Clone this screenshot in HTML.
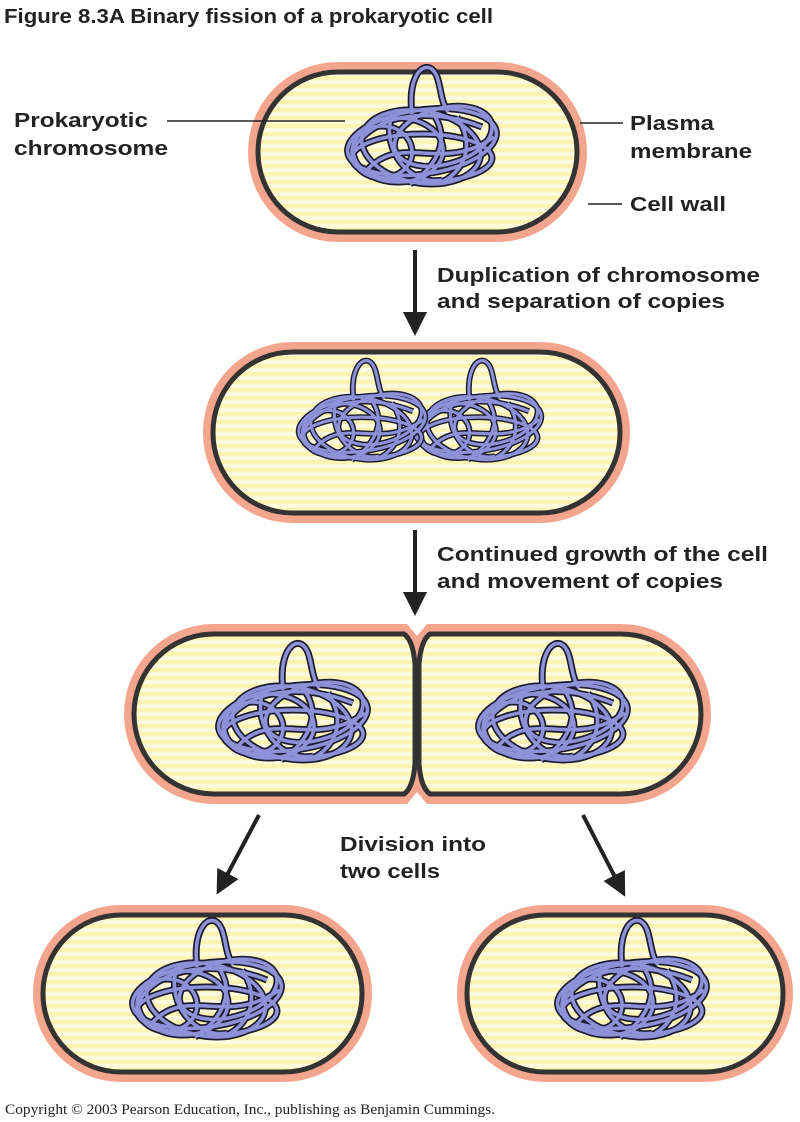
<!DOCTYPE html>
<html><head><meta charset="utf-8"><style>
html,body{margin:0;padding:0;background:#fff;}
svg{display:block;}
text{font-family:"Liberation Sans",Arial,sans-serif;font-weight:bold;fill:#222;}
</style></head><body>
<svg width="800" height="1122" viewBox="0 0 800 1122" xmlns="http://www.w3.org/2000/svg">
<defs>
<pattern id="st" width="8" height="8" patternUnits="userSpaceOnUse">
<rect width="8" height="8" fill="#fdf4b4"/><rect width="8" height="4" fill="#fefadc"/>
</pattern>
<g id="shape" fill="none">
<ellipse cx="0" cy="0" rx="75" ry="32" transform="rotate(-8)"/>
<ellipse cx="0" cy="5" rx="60" ry="36" transform="rotate(10)"/>
<ellipse cx="-24" cy="8" rx="45" ry="32"/>
<ellipse cx="22" cy="0" rx="50" ry="28" transform="rotate(-15)"/>
<ellipse cx="0" cy="16" rx="70" ry="24"/>
<ellipse cx="-40" cy="10" rx="30" ry="26"/>
<path d="M-70,10 C-50,-30 10,-35 60,-15"/>
<path d="M-55,28 C-20,-10 20,32 72,-5"/>
<path d="M-30,-28 C-42,10 -10,44 20,38"/>
<path d="M10,-30 C32,0 10,28 -12,42"/>
<path d="M35,-25 C55,5 40,30 20,40"/>
<path d="M-10,-28 C-14,-62 -2,-78 8,-74 C20,-68 16,-44 26,-30"/>
</g>
<g id="chr">
<use href="#shape" stroke="#1c1c30" stroke-width="7"/>
<use href="#shape" stroke="#8d92d8" stroke-width="3.6"/>
</g>
<marker id="ah" markerWidth="6" markerHeight="6" refX="1" refY="3" orient="auto" markerUnits="strokeWidth">
<path d="M0,0 L6,3 L0,6 Z" fill="#222"/>
</marker>
</defs>

<text x="4" y="23" font-size="20" textLength="489" lengthAdjust="spacingAndGlyphs">Figure 8.3A  Binary fission of a prokaryotic cell</text>

<!-- cell 1 -->
<rect x="248" y="62" width="339" height="180" rx="90" fill="#f3a58e"/>
<rect x="258" y="72" width="319" height="160" rx="80" fill="url(#st)" stroke="#333" stroke-width="5"/>
<use href="#chr" transform="translate(422,142)"/>
<line x1="167" y1="121" x2="345" y2="121" stroke="#222" stroke-width="1.5"/>
<line x1="580" y1="123" x2="623" y2="123" stroke="#222" stroke-width="1.5"/>
<line x1="588" y1="204" x2="622" y2="204" stroke="#222" stroke-width="1.5"/>
<text x="14" y="127" font-size="20" textLength="134" lengthAdjust="spacingAndGlyphs">Prokaryotic</text>
<text x="14" y="155" font-size="20" textLength="154" lengthAdjust="spacingAndGlyphs">chromosome</text>
<text x="630" y="130" font-size="20" textLength="84" lengthAdjust="spacingAndGlyphs">Plasma</text>
<text x="630" y="158" font-size="20" textLength="122" lengthAdjust="spacingAndGlyphs">membrane</text>
<text x="630" y="211" font-size="20" textLength="96" lengthAdjust="spacingAndGlyphs">Cell wall</text>

<!-- arrow 1 -->
<line x1="415" y1="250" x2="415" y2="316" stroke="#222" stroke-width="4" marker-end="url(#ah)"/>
<text x="437" y="282" font-size="20" textLength="323" lengthAdjust="spacingAndGlyphs">Duplication of chromosome</text>
<text x="437" y="308" font-size="20" textLength="288" lengthAdjust="spacingAndGlyphs">and separation of copies</text>

<!-- cell 2 -->
<rect x="203" y="342" width="427" height="181" rx="90" fill="#f3a58e"/>
<rect x="213" y="352" width="407" height="161" rx="80" fill="url(#st)" stroke="#333" stroke-width="5"/>
<use href="#chr" transform="translate(478,424) scale(0.85)"/>
<use href="#chr" transform="translate(362,424) scale(0.85)"/>

<!-- arrow 2 -->
<line x1="415" y1="530" x2="415" y2="596" stroke="#222" stroke-width="4" marker-end="url(#ah)"/>
<text x="437" y="561" font-size="20" textLength="331" lengthAdjust="spacingAndGlyphs">Continued growth of the cell</text>
<text x="437" y="588" font-size="20" textLength="286" lengthAdjust="spacingAndGlyphs">and movement of copies</text>

<!-- cell 3 -->
<path d="M214,624 L407,624 L417,636 L427,624 L621,624 A90 90 0 0 1 621,804 L427,804 L417,792 L407,804 L214,804 A90 90 0 0 1 214,624 Z" fill="#f3a58e"/>
<path d="M214,634 L404,634 Q413,640 415,664 L415,764 Q413,788 404,794 L214,794 A80 80 0 0 1 214,634 Z" fill="url(#st)" stroke="#333" stroke-width="5"/>
<path d="M621,634 L430,634 Q421,640 419,664 L419,764 Q421,788 430,794 L621,794 A80 80 0 0 0 621,634 Z" fill="url(#st)" stroke="#333" stroke-width="5"/>
<use href="#chr" transform="translate(293,718)"/>
<use href="#chr" transform="translate(553,718)"/>

<!-- diagonal arrows -->
<line x1="259" y1="815" x2="226" y2="877" stroke="#222" stroke-width="4" marker-end="url(#ah)"/>
<line x1="583" y1="815" x2="616" y2="879" stroke="#222" stroke-width="4" marker-end="url(#ah)"/>
<text x="340" y="851" font-size="20" textLength="146" lengthAdjust="spacingAndGlyphs">Division into</text>
<text x="340" y="878" font-size="20" textLength="100" lengthAdjust="spacingAndGlyphs">two cells</text>

<!-- cell 4 -->
<rect x="33" y="905" width="339" height="177" rx="88" fill="#f3a58e"/>
<rect x="43" y="915" width="319" height="157" rx="78" fill="url(#st)" stroke="#333" stroke-width="5"/>
<use href="#chr" transform="translate(207,995)"/>

<!-- cell 5 -->
<rect x="457" y="905" width="336" height="177" rx="88" fill="#f3a58e"/>
<rect x="467" y="915" width="316" height="157" rx="78" fill="url(#st)" stroke="#333" stroke-width="5"/>
<use href="#chr" transform="translate(632,995)"/>

<text x="5" y="1114" font-size="15" style="font-family:'Liberation Serif',serif;font-weight:normal" textLength="490" lengthAdjust="spacingAndGlyphs">Copyright © 2003 Pearson Education, Inc., publishing as Benjamin Cummings.</text>
</svg>
</body></html>
